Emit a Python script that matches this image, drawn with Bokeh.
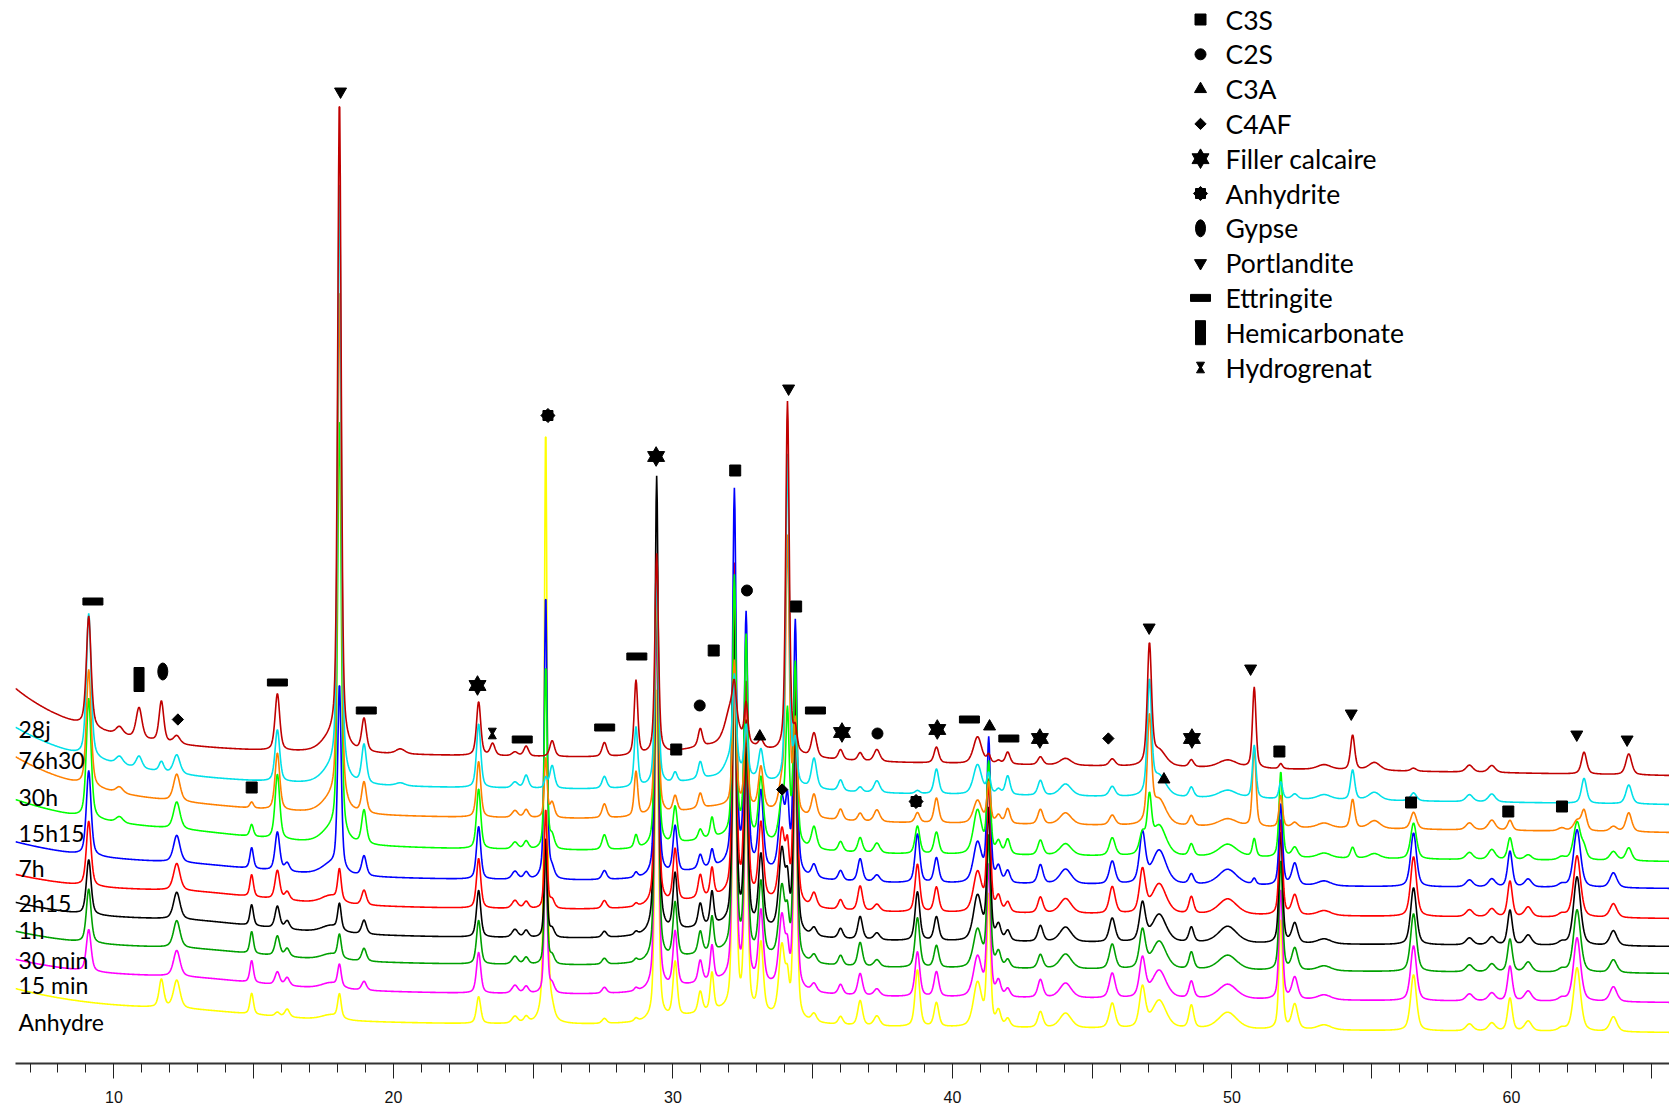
import numpy as np
from bokeh.plotting import figure
from bokeh.models import Range1d, FixedTicker, Label
from bokeh.embed import file_html
from bokeh.resources import INLINE

# ---------------- data ----------------
samples = ["Anhydre", "15 min", "30 min", "1h", "2h15", "7h", "15h15", "30h", "76h30", "28j"]
colors = ["#FFFF00", "#FF00FF", "#00A000", "#000000", "#FF0000",
          "#0000FF", "#00FF00", "#FF8000", "#00E0E8", "#C00000"]

# background of each pattern: level at 65.5 deg, slope, low-angle rise, decay length (deg)
bg_level = [31, 61, 90, 117, 145, 175, 202, 231, 259, 288]
bg_slope = [-0.171, -0.173, -0.175, -0.171, -0.195, -0.167, -0.239, -0.33, -0.37, -0.45]
bg_rise = [33, 32, 31, 33, 31.5, 36, 47, 55.5, 55, 60]
bg_decay = [4.5, 5, 5, 5, 5, 5, 5, 3.5, 3.5, 2.7]

# reflections (2theta, FWHM) and heights for each pattern
peak_pos = [9.10, 10.20, 10.90, 11.70, 12.25, 13.00, 14.93, 15.85, 16.20, 17.75,
            18.07, 18.95, 20.25, 23.05, 23.55, 24.35, 24.75, 25.45, 25.68, 27.55,
            28.68, 29.42, 30.08, 30.98, 31.40, 32.00, 32.10, 32.20, 32.62, 33.15,
            33.90, 34.10, 34.38, 35.05, 36.00, 36.70, 37.30, 38.75, 39.43, 40.90,
            41.30, 41.65, 41.98, 43.15, 44.05, 45.72, 46.80, 47.05, 47.40, 48.55,
            49.85, 50.80, 51.75, 52.25, 53.30, 54.32, 55.10, 56.50, 58.50, 59.30,
            59.95, 60.60, 61.80, 62.35, 62.60, 63.65, 64.20]
peak_fwhm = [0.20, 0.30, 0.25, 0.20, 0.28, 6.00, 0.15, 0.20, 0.20, 0.80,
             0.15, 0.20, 0.40, 0.18, 0.20, 0.25, 0.20, 0.12, 0.20, 0.20,
             0.15, 0.15, 0.18, 0.18, 0.15, 4.00, 0.50, 0.15, 0.15, 0.20,
             0.25, 0.15, 0.15, 0.22, 0.20, 0.20, 0.25, 0.20, 0.20, 0.35,
             0.15, 0.20, 0.20, 0.22, 0.50, 0.25, 0.25, 0.18, 0.60, 0.20,
             0.80, 0.15, 0.15, 0.25, 0.60, 0.18, 0.50, 0.25, 0.30, 0.30,
             0.20, 0.30, 0.30, 0.30, 0.22, 0.30, 0.25]

h_anhydre = [0, 0, 0, 28, 28, 6, 21, 4, 8, 5,
             24, 0, 0, 27, 0, 7, 6, 600, 8, 5,
             3, 330, 55, 21, 38, 15, 0, 340, 220, 70,
             70, 30, 250, 8, 8, 25, 10, 57, 24, 44,
             130, 15, 8, 16, 15, 25, 40, 0, 28, 23,
             17, 0, 110, 25, 5, 0, 0, 56, 7, 8,
             33, 10, 3, 64, 0, 15, 0]
h_15min = [42, 0, 0, 0, 26, 7, 22, 13, 8, 6,
           22, 9, 0, 41, 0, 8, 7, 150, 8, 6,
           3, 380, 55, 22, 35, 15, 0, 330, 210, 72,
           70, 30, 240, 8, 10, 22, 7, 45, 25, 40,
           130, 15, 8, 18, 15, 25, 39, 0, 28, 17,
           15, 0, 110, 22, 5, 0, 0, 55, 7, 8,
           35, 10, 3, 64, 0, 15, 0]
h_30min = [54, 0, 0, 0, 27, 7, 22, 20, 8, 6,
           23, 13, 0, 44, 0, 8, 7, 120, 8, 6,
           3, 385, 55, 22, 35, 15, 0, 320, 200, 72,
           70, 35, 240, 8, 10, 24, 7, 50, 22, 38,
           130, 15, 8, 14, 15, 25, 38, 0, 28, 17,
           15, 0, 110, 22, 5, 0, 0, 58, 7, 8,
           33, 10, 3, 63, 0, 13, 0]
h_1h = [55, 0, 0, 0, 27, 8, 21, 22, 8, 7,
        26, 14, 0, 47, 0, 8, 7, 100, 8, 6,
        3, 458, 57, 23, 33, 15, 0, 320, 200, 72,
        80, 40, 240, 8, 10, 23, 7, 49, 24, 45,
        130, 15, 10, 16, 15, 24, 38, 0, 28, 15,
        17, 0, 112, 20, 5, 0, 0, 57, 7, 8,
        35, 10, 3, 69, 0, 15, 0]
h_2h15 = [65, 0, 0, 0, 27, 8, 22, 29, 8, 8,
          31, 15, 0, 50, 0, 8, 7, 100, 8, 8,
          3, 320, 53, 23, 28, 15, 0, 330, 210, 75,
          70, 45, 240, 14, 10, 25, 7, 48, 25, 40,
          130, 15, 10, 16, 15, 27, 43, 0, 30, 17,
          16, 0, 96, 20, 5, 0, 0, 60, 7, 8,
          36, 10, 3, 62, 0, 14, 0]
h_7h = [85, 0, 0, 0, 27, 6, 21, 39, 8, 10,
        186, 20, 0, 53, 0, 8, 7, 286, 8, 9,
        5, 300, 47, 14, 17, 15, 0, 375, 250, 77,
        72, 60, 253, 13, 10, 23, 7, 49, 25, 40,
        143, 15, 12, 19, 15, 23, 50, 0, 34, 10,
        16, 6, 82, 22, 5, 0, 0, 54, 7, 8,
        36, 8, 3, 58, 0, 15, 0]
h_15h15 = [120, 6, 0, 0, 27, 5, 12, 65, 0, 12,
           420, 34, 0, 60, 0, 7, 8, 184, 12, 15,
           13, 270, 37, 10, 20, 15, 0, 260, 200, 62,
           40, 125, 181, 22, 10, 15, 10, 28, 22, 44,
           90, 12, 15, 15, 12, 18, 20, 50, 30, 12,
           13, 18, 86, 10, 5, 11, 5, 36, 7, 10,
           22, 5, 3, 38, 10, 9, 13]
h_30h = [117, 6, 0, 0, 27, 3, 6, 57, 0, 12,
         520, 31, 0, 56, 0, 7, 8, 60, 15, 14,
         45, 230, 16, 15, 0, 15, 0, 145, 80, 42,
         25, 271, 90, 23, 11, 8, 12, 10, 25, 23,
         40, 8, 15, 15, 12, 10, 0, 103, 25, 10,
         8, 79, 32, 5, 5, 29, 8, 17, 7, 10,
         10, 0, 3, 10, 20, 5, 19]
h_76h30 = [144, 8, 12, 10, 19, 0, 0, 52, 0, 12,
           600, 39, 3, 64, 0, 6, 13, 10, 23, 12,
           60, 210, 10, 17, 0, 15, 20, 85, 50, 30,
           0, 330, 40, 30, 11, 5, 12, 3, 25, 30,
           20, 5, 19, 15, 12, 10, 0, 111, 20, 10,
           8, 53, 17, 5, 5, 30, 8, 8, 7, 8,
           0, 0, 0, 0, 25, 0, 19]
h_28j = [111, 8, 31, 41, 8, 0, 0, 57, 0, 12,
         648, 33, 5, 54, 12, 4, 10, 0, 16, 14,
         75, 200, 0, 18, 0, 15, 40, 30, 40, 8,
         0, 352, 20, 24, 10, 8, 12, 0, 16, 27,
         8, 3, 12, 8, 7, 7, 0, 119, 15, 7,
         8, 81, 5, 0, 5, 35, 8, 3, 7, 7,
         0, 0, 0, 0, 22, 0, 21]
heights = [h_anhydre, h_15min, h_30min, h_1h, h_2h15, h_7h, h_15h15, h_30h, h_76h30, h_28j]

# phase markers (2theta, height on the chart)
phase_names = ["C3S", "C2S", "C3A", "C4AF", "Filler calcaire", "Anhydrite", "Gypse",
               "Portlandite", "Ettringite", "Hemicarbonate", "Hydrogrenat"]
c3s_x = [14.93, 30.12, 31.46, 32.23, 34.41, 51.70, 56.41, 59.89, 61.81]
c3s_y = [276, 314, 413, 593, 457, 312, 261, 252, 257]
c2s_x = [30.96, 32.65, 37.32]
c2s_y = [358, 473, 330]
c3a_x = [33.11, 41.33, 47.57]
c3a_y = [327, 337, 284]
c4af_x = [12.29, 33.91, 45.58]
c4af_y = [344, 274, 325]
calc_x = [23.01, 29.40, 36.05, 39.46, 43.13, 48.57]
calc_y = [378, 607, 331, 334, 325, 325]
anhy_x = [25.53, 38.70]
anhy_y = [648, 262]
gyp_x = [11.75]
gyp_y = [392]
port_x = [18.11, 34.14, 47.04, 50.67, 54.27, 62.34, 64.14]
port_y = [972, 675, 436, 395, 350, 329, 324]
ett_x = [9.25, 15.85, 19.03, 24.61, 27.56, 28.71, 35.10, 40.61, 42.02]
ett_y = [462, 381, 353, 324, 336, 407, 353, 344, 325]
hemi_x = [10.90]
hemi_y = [384]
hydro_x = [23.54]
hydro_y = [330]

# ---------------- layout ----------------
X0 = 6.48
PPD = 27.95                 # pixels per degree
FRAME_W = 1654
FRAME_H = 1055
X1 = X0 + FRAME_W / PPD


def X(px):
    return X0 + (px - 15) / PPD


def Y(py):
    return 1063 - py


p = figure(frame_width=FRAME_W, frame_height=FRAME_H,
           x_range=Range1d(X0, X1), y_range=Range1d(0, FRAME_H),
           output_backend="svg", toolbar_location=None, y_axis_location=None,
           min_border_left=15, min_border_right=0, min_border_top=8, min_border_bottom=46)
p.outline_line_color = None
p.xgrid.visible = False
p.ygrid.visible = False
p.background_fill_color = "white"

ax = p.xaxis[0]
ax.ticker = FixedTicker(ticks=list(range(10, 66, 5)), minor_ticks=list(range(7, 66)))
ax.major_label_overrides = {t: "" for t in range(15, 66, 10)}
ax.axis_line_color = "#333333"
ax.axis_line_width = 2
ax.major_tick_out = 15
ax.major_tick_in = 0
ax.minor_tick_out = 9
ax.minor_tick_in = 0
ax.major_tick_line_color = "#222222"
ax.minor_tick_line_color = "#222222"
ax.major_label_text_font = "Liberation Sans"
ax.major_label_text_font_size = "16px"
ax.major_label_text_color = "#111111"
ax.major_label_standoff = 12

# ---------------- patterns ----------------
tt = np.arange(X0, X1 + 0.01, 0.02)
pos = np.array(peak_pos)[:, None]
fw = np.array(peak_fwhm)[:, None]
u = (tt[None, :] - pos) / fw
profile = 0.5 / (1 + 4 * u ** 2) + 0.5 * np.exp(-4 * np.log(2) * u ** 2)

for i in range(len(samples)):
    bg = bg_level[i] + bg_slope[i] * (tt - 65.5) + bg_rise[i] * np.exp(-(tt - 6.5) / bg_decay[i])
    yy = bg + (np.array(heights[i])[:, None] * profile).sum(axis=0)
    p.line(tt, yy, line_color=colors[i], line_width=1.6)


# ---------------- markers ----------------
def draw_marker(kind, xs, ys):
    xs = list(xs)
    ys = list(ys)
    k = dict(color="black")
    if kind == "C3S":
        p.scatter(xs, ys, marker="square", size=11, **k)
    elif kind == "C2S":
        p.scatter(xs, ys, marker="circle", size=11, **k)
    elif kind == "C3A":
        p.scatter(xs, ys, marker="triangle", size=12, **k)
    elif kind == "C4AF":
        p.scatter(xs, ys, marker="square", size=8, angle=np.pi / 4, **k)
    elif kind == "Filler calcaire":
        p.scatter(xs, ys, marker="triangle", size=17, **k)
        p.scatter(xs, ys, marker="inverted_triangle", size=17, **k)
    elif kind == "Anhydrite":
        p.scatter(xs, ys, marker="square", size=10, **k)
        p.scatter(xs, ys, marker="square", size=10, angle=np.pi / 4, **k)
    elif kind == "Gypse":
        p.ellipse(xs, ys, width=10, height=17, width_units="screen",
                  height_units="screen", **k)
    elif kind == "Portlandite":
        p.scatter(xs, ys, marker="inverted_triangle", size=12, **k)
    elif kind == "Ettringite":
        p.rect(xs, ys, width=20, height=7, width_units="screen",
               height_units="screen", **k)
    elif kind == "Hemicarbonate":
        p.rect(xs, ys, width=10, height=24, width_units="screen",
               height_units="screen", **k)
    elif kind == "Hydrogrenat":
        p.scatter(xs, [y + 3 for y in ys], marker="inverted_triangle", size=8, **k)
        p.scatter(xs, [y - 3 for y in ys], marker="triangle", size=8, **k)


marker_data = {
    "C3S": (c3s_x, c3s_y), "C2S": (c2s_x, c2s_y), "C3A": (c3a_x, c3a_y),
    "C4AF": (c4af_x, c4af_y), "Filler calcaire": (calc_x, calc_y),
    "Anhydrite": (anhy_x, anhy_y), "Gypse": (gyp_x, gyp_y),
    "Portlandite": (port_x, port_y), "Ettringite": (ett_x, ett_y),
    "Hemicarbonate": (hemi_x, hemi_y), "Hydrogrenat": (hydro_x, hydro_y),
}
for name in phase_names:
    draw_marker(name, *marker_data[name])

# ---------------- legend ----------------
for k, name in enumerate(phase_names):
    yc = Y(19 + 34.8 * k)
    draw_marker(name, [X(1200)], [yc])
    p.add_layout(Label(x=X(1225), y=yc, text=name, text_font="Lato",
                       text_font_size="26.5px", text_color="black",
                       text_baseline="middle", text_align="left"))

# ---------------- sample labels ----------------
label_py = [1021, 984, 959, 929, 902, 867, 832, 796, 759, 728]
for i, name in enumerate(samples):
    p.add_layout(Label(x=X(18), y=Y(label_py[i]), text=name, text_font="Lato",
                       text_font_size="23px", text_color="black",
                       text_baseline="middle", text_align="left"))

open("out.html", "w").write(file_html(p, INLINE))
